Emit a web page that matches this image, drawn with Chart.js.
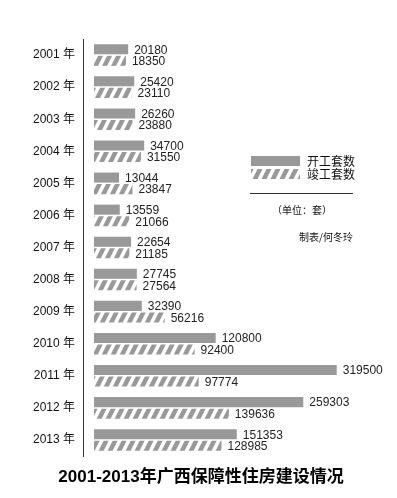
<!DOCTYPE html>
<html>
<head>
<meta charset="utf-8">
<script src="https://cdn.jsdelivr.net/npm/chart.js@4.4.1/dist/chart.umd.min.js"></script>
<style>
  html, body { margin: 0; padding: 0; background: #fff; }
  #wrap { width: 397px; height: 498px; position: relative; }
</style>
</head>
<body>
<div id="wrap"><canvas id="housingChart"></canvas></div>
<script>
// data
const years = ['2001', '2002', '2003', '2004', '2005', '2006', '2007', '2008', '2009', '2010', '2011', '2012', '2013'];
const started = [20180, 25420, 26260, 34700, 13044, 13559, 22654, 27745, 32390, 120800, 319500, 259303, 151353];
const completed = [18350, 23110, 23880, 31550, 23847, 21066, 21185, 27564, 56216, 92400, 97774, 139636, 128985];
const seriesNames = ['开工套数', '竣工套数'];

const GREY = '#999999';
const CJK = '"Noto Sans CJK SC", sans-serif';
const NUM = '"Liberation Sans", "Noto Sans CJK SC", sans-serif';

// the original bars are drawn on a compressed scale, a power scale fits it well
const EXP = 0.71;
class PowScale extends Chart.LinearScale {
    getPixelForValue(value) {
        const t = Math.pow(Math.max(value, 0), EXP) / Math.pow(this.max, EXP);
        return this.getPixelForDecimal(t);
    }
    getValueForPixel(pixel) {
        const t = this.getDecimalForPixel(pixel);
        return Math.pow(t * Math.pow(this.max, EXP), 1 / EXP);
    }
}
PowScale.id = 'pow';
PowScale.defaults = Chart.LinearScale.defaults;
Chart.register(PowScale);

// diagonal stripes for the second series
function makeHatch() {
    const c = document.createElement('canvas');
    c.width = 9;
    c.height = 18;
    const g = c.getContext('2d');
    g.fillStyle = GREY;
    [0, -9, 9].forEach(function(off) {
        g.beginPath();
        g.moveTo(off, 18);
        g.lineTo(off + 5, 18);
        g.lineTo(off + 14, 0);
        g.lineTo(off + 9, 0);
        g.closePath();
        g.fill();
    });
    return g.createPattern(c, 'repeat');
}
const hatch = makeHatch();

const extrasPlugin = {
    id: 'extras',
    afterDatasetsDraw(chart) {
        const ctx = chart.ctx;
        const area = chart.chartArea;
        ctx.save();
        // value labels
        ctx.font = '12px ' + NUM;
        ctx.fillStyle = '#222';
        ctx.textBaseline = 'middle';
        ctx.textAlign = 'left';
        chart.data.datasets.forEach(function(ds, i) {
            chart.getDatasetMeta(i).data.forEach(function(bar, j) {
                ctx.fillText(String(ds.data[j]), bar.x + 6, bar.y + 1);
            });
        });
        // vertical axis line
        ctx.strokeStyle = '#333';
        ctx.lineWidth = 1;
        ctx.beginPath();
        ctx.moveTo(area.left - 10.5, area.top);
        ctx.lineTo(area.left - 10.5, area.bottom + 1);
        ctx.stroke();

        // legend
        ctx.fillStyle = GREY;
        ctx.fillRect(251, 156, 49, 10);
        ctx.fillStyle = hatch;
        ctx.fillRect(251, 169, 49, 10);
        ctx.fillStyle = '#111';
        ctx.font = '12px ' + CJK;
        ctx.fillText(seriesNames[0], 307, 161);
        ctx.fillText(seriesNames[1], 307, 174);

        ctx.beginPath();
        ctx.moveTo(250, 193.5);
        ctx.lineTo(353, 193.5);
        ctx.stroke();

        ctx.font = '10px ' + CJK;
        ctx.textAlign = 'center';
        ctx.fillText('（单位：套）', 302, 210);
        ctx.textAlign = 'right';
        ctx.fillText('制表/何冬玲', 353, 237);

        // title
        ctx.fillStyle = '#000';
        ctx.font = 'bold 17px ' + NUM;
        ctx.textAlign = 'center';
        ctx.fillText('2001-2013年广西保障性住房建设情况', 201, 477);
        ctx.restore();
    }
};

const config = {
    type: 'bar',
    data: {
        labels: years.map(function(y) { return y + ' 年'; }),
        datasets: [
            {
                label: seriesNames[0],
                data: started,
                backgroundColor: GREY,
                borderWidth: 0
            },
            {
                label: seriesNames[1],
                data: completed,
                backgroundColor: hatch,
                borderWidth: 0
            }
        ]
    },
    options: {
        indexAxis: 'y',
        responsive: false,
        animation: false,
        categoryPercentage: 0.72,
        barPercentage: 0.87,
        layout: {
            padding: { left: 0, right: 60, top: 39, bottom: 42 }
        },
        scales: {
            x: {
                type: 'pow',
                min: 0,
                max: 320000,
                display: false
            },
            y: {
                grid: { display: false, drawTicks: false },
                border: { display: false },
                afterFit: function(scale) { scale.width = 94; },
                ticks: {
                    padding: 19,
                    color: '#111',
                    font: { size: 12, family: NUM }
                }
            }
        },
        plugins: {
            legend: { display: false },
            tooltip: { enabled: false },
            title: { display: false }
        }
    },
    plugins: [extrasPlugin]
};

const canvas = document.getElementById('housingChart');
canvas.width = 397;
canvas.height = 498;
new Chart(canvas, config);
</script>
</body>
</html>
